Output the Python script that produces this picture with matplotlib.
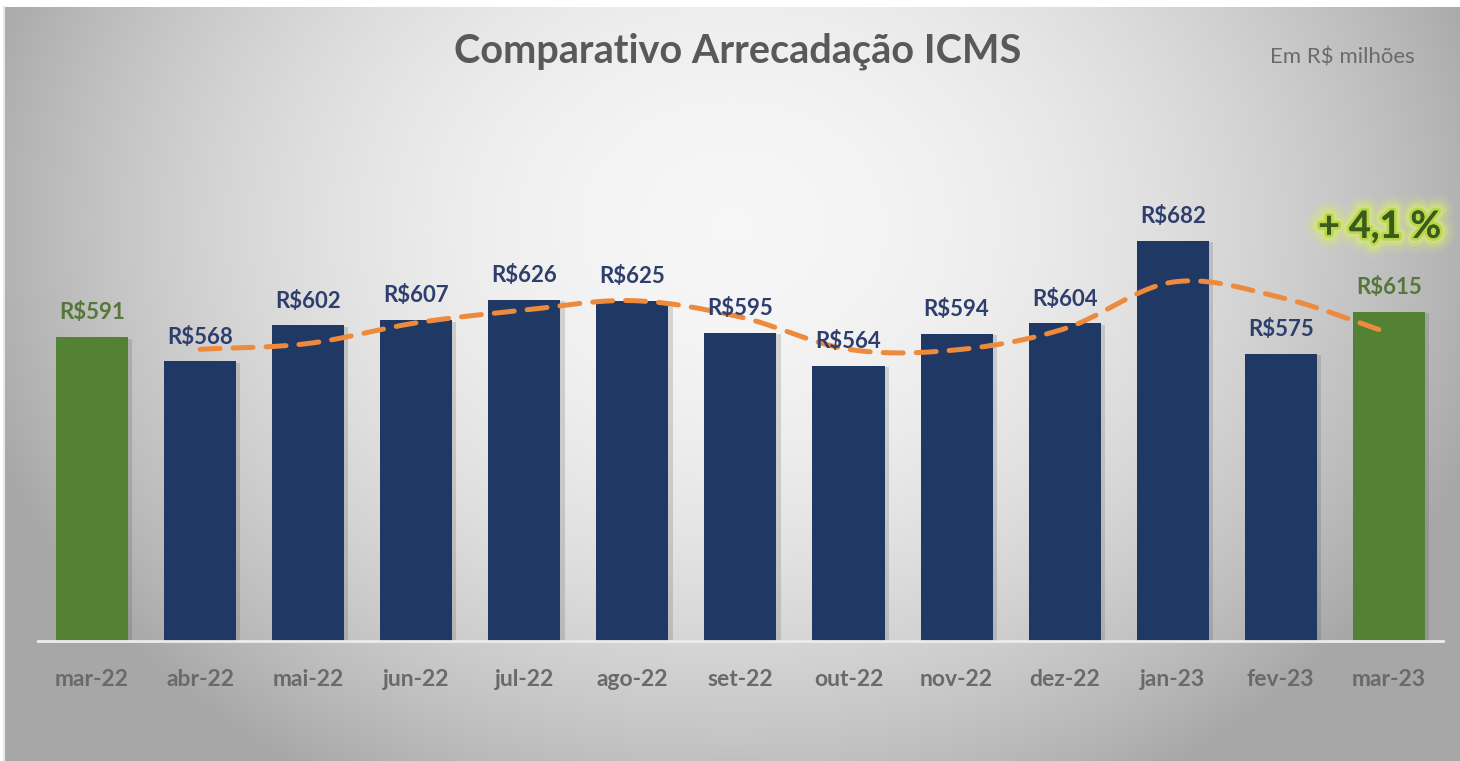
import numpy as np
import matplotlib
matplotlib.use("Agg")
import matplotlib.pyplot as plt
import matplotlib.patheffects as pe

# dados (R$ milhões)
meses = ["mar-22", "abr-22", "mai-22", "jun-22", "jul-22", "ago-22", "set-22",
         "out-22", "nov-22", "dez-22", "jan-23", "fev-23", "mar-23"]
valores = [591, 568, 602, 607, 626, 625, 595, 564, 594, 604, 682, 575, 615]
# linha de tendência (média móvel 2 períodos), de abr-22 a mar-23
media = [579.5, 585, 604.5, 616.5, 625.5, 610, 579.5, 579, 599, 643, 628.5, 595]
destaque = "+ 4,1 %"

plt.rcParams['font.family'] = ['Lato', 'DejaVu Sans']

fig = plt.figure(figsize=(14.6, 7.61), dpi=100)
fig.patch.set_facecolor("white")

# fundo com gradiente radial
bg = fig.add_axes([0.0035, 0, 0.9965, 0.991])
bg.set_axis_off()
ny, nx = 380, 730
yy, xx = np.mgrid[0:ny, 0:nx]
dx = (xx - nx * 0.5) / (nx * 0.515)
dy = (yy - ny * 0.29) / (ny * 0.82)
r2 = np.clip(dx ** 2 + dy ** 2, 0, 1.1)
lum = 0.965 - 0.28 * r2
img = np.dstack([lum, lum, lum])
bg.imshow(np.clip(img, 0, 1), aspect="auto", extent=[0, 1, 0, 1], origin="upper")
bg.set_xlim(0, 1)
bg.set_ylim(0, 1)
# borda fina clara à esquerda
fig.add_artist(plt.Line2D([0.0025, 0.0025], [0, 0.991], color="#e4e8f0", lw=1.5))

ax = fig.add_axes([0.026, 0.1577, 0.9623, 0.7109])
ax.patch.set_alpha(0)
x = np.arange(len(meses))
cores = ["#548235"] + ["#1f3864"] * (len(meses) - 2) + ["#548235"]
barras = ax.bar(x, valores, width=0.667, color=cores, zorder=2)
for b in barras:
    b.set_path_effects([pe.SimplePatchShadow(offset=(3, -1), alpha=0.18, shadow_rgbFace="#444444"),
                        pe.Normal()])

ax.set_xlim(-0.5, 12.5)
ax.set_ylim(304, 815)

for i, v in enumerate(valores):
    c = "#55783a" if cores[i] == "#548235" else "#2e3f6e"
    ax.text(i, v + 13, f"R${v}", ha="center", va="bottom", fontsize=16,
            fontweight="bold", color=c, zorder=4)

# linha suavizada (Catmull-Rom) só para o traçado
px = x[1:].astype(float)
py = np.array(media, dtype=float)
P = np.column_stack([px, py])
P = np.vstack([P[0] * 2 - P[1], P, P[-1] * 2 - P[-2]])
curva = []
for k in range(1, len(P) - 2):
    p0, p1, p2, p3 = P[k - 1], P[k], P[k + 1], P[k + 2]
    t = np.linspace(0, 1, 25)[:, None]
    seg = 0.5 * ((2 * p1) + (-p0 + p2) * t + (2 * p0 - 5 * p1 + 4 * p2 - p3) * t ** 2
                 + (-p0 + 3 * p1 - 3 * p2 + p3) * t ** 3)
    curva.append(seg)
curva = np.vstack(curva)
ax.plot(curva[:, 0], curva[:, 1], color="#ee8a3c", lw=3.6, dashes=(4, 2.6),
        dash_capstyle="round", zorder=3)

for s in ["top", "right", "left"]:
    ax.spines[s].set_visible(False)
ax.spines["bottom"].set_color("#ececec")
ax.spines["bottom"].set_linewidth(2)
ax.set_yticks([])
ax.set_xticks(x)
ax.set_xticklabels(meses, fontsize=16.5, fontweight="bold", color="#6a6a6a")
ax.tick_params(axis="x", length=0, pad=20)

fig.text(0.505, 0.932, "Comparativo Arrecadação ICMS", ha="center", va="center",
         fontsize=28.5, fontweight="bold", color="#595959")
fig.text(0.969, 0.925, "Em R$ milhões", ha="right", va="center",
         fontsize=16, color="#6a6a6a")

glow = [pe.withStroke(linewidth=w, foreground="#d6e87a", alpha=a)
        for w, a in [(22, 0.12), (17, 0.2), (12, 0.35), (8, 0.6)]]
fig.text(0.945, 0.702, destaque, ha="center", va="center", fontsize=27,
         fontweight="bold", color="#3b5a1e",
         path_effects=glow + [pe.withStroke(linewidth=4, foreground="#b8d84a"), pe.Normal()])

fig.savefig("out.png", dpi=100)
